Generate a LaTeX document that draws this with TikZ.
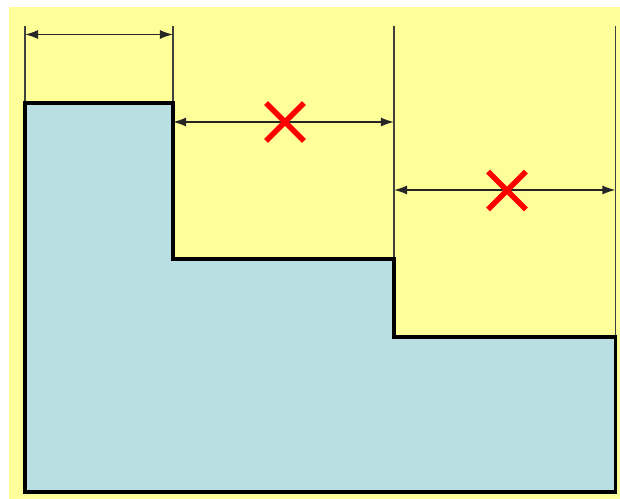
\documentclass[tikz,border=0pt]{standalone}
\usepackage{amsmath}
\usepackage{tikz}
\usetikzlibrary{shapes.misc}
\usetikzlibrary{arrows.meta}
\definecolor{paleyellow}{HTML}{FFFF99}
\definecolor{paleblue}{HTML}{B9DFE3}
\tikzstyle{outline}=[draw=black, line width=2pt, fill=paleblue, line join=miter]
\tikzstyle{extline}=[draw=black!75, line width=0.7pt]
\tikzstyle{dimline}=[draw=black!85, line width=0.85pt, {Latex[length=7.5pt, width=5.2pt]}-{Latex[length=7.5pt, width=5.2pt]}]
\tikzstyle{nomark}=[cross out, draw=red, line width=3.1pt, inner sep=0pt, outer sep=0pt, minimum size=0.76cm]

\begin{document}
\begin{tikzpicture}[x=0.02cm, y=-0.02cm]
        \useasboundingbox (0, 0) rectangle (620, 499);
        \fill[paleyellow] (9, 7) rectangle (620, 499);
        \coordinate (T1) at (25, 26);
        \coordinate (T2) at (173, 26);
        \coordinate (T3) at (394, 26);
        \coordinate (T4) at (615.5, 26);
        \coordinate (S1) at (25, 103);
        \coordinate (S2) at (173, 103);
        \coordinate (S3) at (173, 259);
        \coordinate (S4) at (394, 259);
        \coordinate (S5) at (394, 337);
        \coordinate (S6) at (615.5, 337);
        \coordinate (S7) at (615.5, 492);
        \coordinate (S8) at (25, 492);
        \draw[extline] (T1) -- (S1);
        \draw[extline] (T2) -- (S2);
        \draw[extline] (T3) -- (S4);
        \draw[extline] (T4) -- (S6);
        \draw[outline] (S1) -- (S2) -- (S3) -- (S4) -- (S5) -- (S6) -- (S7) -- (S8) -- cycle;
        \coordinate (A1) at (25, 34.5);
        \coordinate (A2) at (173, 34.5);
        \coordinate (B1) at (173, 122);
        \coordinate (B2) at (394, 122);
        \coordinate (C1) at (394, 190);
        \coordinate (C2) at (615.5, 190);
        \draw[dimline] (A1) -- (A2);
        \draw[dimline] (B1) -- (B2);
        \draw[dimline] (C1) -- (C2);
        \node[nomark] (X1) at (285, 122) {};
        \node[nomark] (X2) at (507, 190.5) {};
    \end{tikzpicture}
\end{document}
